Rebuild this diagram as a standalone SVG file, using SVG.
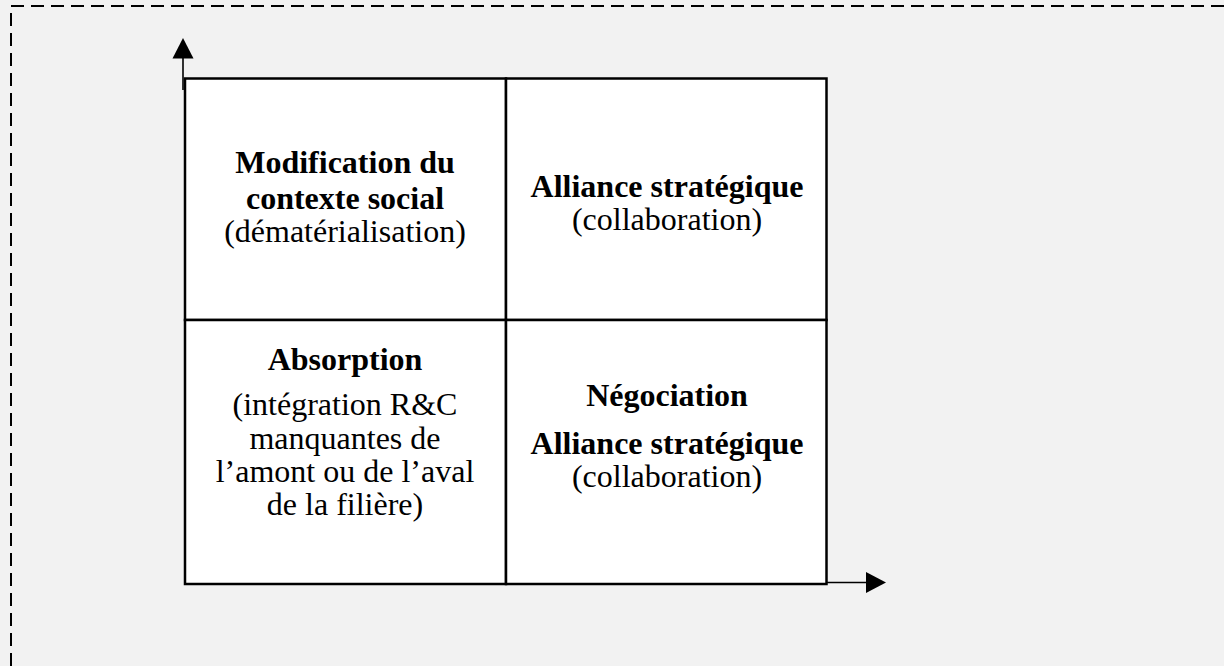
<svg xmlns="http://www.w3.org/2000/svg" width="1224" height="666" viewBox="0 0 1224 666">
  <defs>
    <style>
      .bg { fill: #f2f2f2; }
      .frame { fill: none; stroke: #000; stroke-width: 2; stroke-dasharray: 13 7; }
      .cell { fill: #fff; stroke: #000; stroke-width: 2.5; }
      .axis { stroke: #000; stroke-width: 1.6; fill: none; }
      .head { fill: #000; }
      text { font-family: "Liberation Serif", "Times New Roman", serif; font-size: 32px; fill: #000; text-anchor: middle; }
      .b { font-weight: bold; }
    </style>
  </defs>
  <rect class="bg" x="0" y="0" width="1224" height="666"/>
  <path class="frame" d="M11,666 L11,6 L1224,6"/>

  <g id="connectors">
    <line class="axis" x1="183" y1="90" x2="183" y2="56"/>
    <polygon class="head" points="183,38 172.5,58.5 193.5,58.5"/>
    <line class="axis" x1="825" y1="582.5" x2="868" y2="582.5"/>
    <polygon class="head" points="886,582.5 866,572 866,593"/>
  </g>

  <g id="cell-top-left">
    <rect class="cell" x="185" y="78.5" width="321" height="241.5"/>
    <text class="b" x="345" y="173">Modification du</text>
    <text class="b" x="345" y="209">contexte social</text>
    <text x="345" y="241.5">(dématérialisation)</text>
  </g>

  <g id="cell-top-right">
    <rect class="cell" x="506" y="78.5" width="320.5" height="241.5"/>
    <text class="b" x="667" y="196.5">Alliance stratégique</text>
    <text x="667" y="229.5">(collaboration)</text>
  </g>

  <g id="cell-bottom-left">
    <rect class="cell" x="185" y="320" width="321" height="264"/>
    <text class="b" x="345" y="369.5">Absorption</text>
    <text x="345" y="415">(intégration R&amp;C</text>
    <text x="345" y="448.5">manquantes de</text>
    <text x="345" y="481.5">l’amont ou de l’aval</text>
    <text x="345" y="515">de la filière)</text>
  </g>

  <g id="cell-bottom-right">
    <rect class="cell" x="506" y="320" width="320.5" height="264"/>
    <text class="b" x="667" y="406">Négociation</text>
    <text class="b" x="667" y="453.5">Alliance stratégique</text>
    <text x="667" y="486.5">(collaboration)</text>
  </g>
</svg>
